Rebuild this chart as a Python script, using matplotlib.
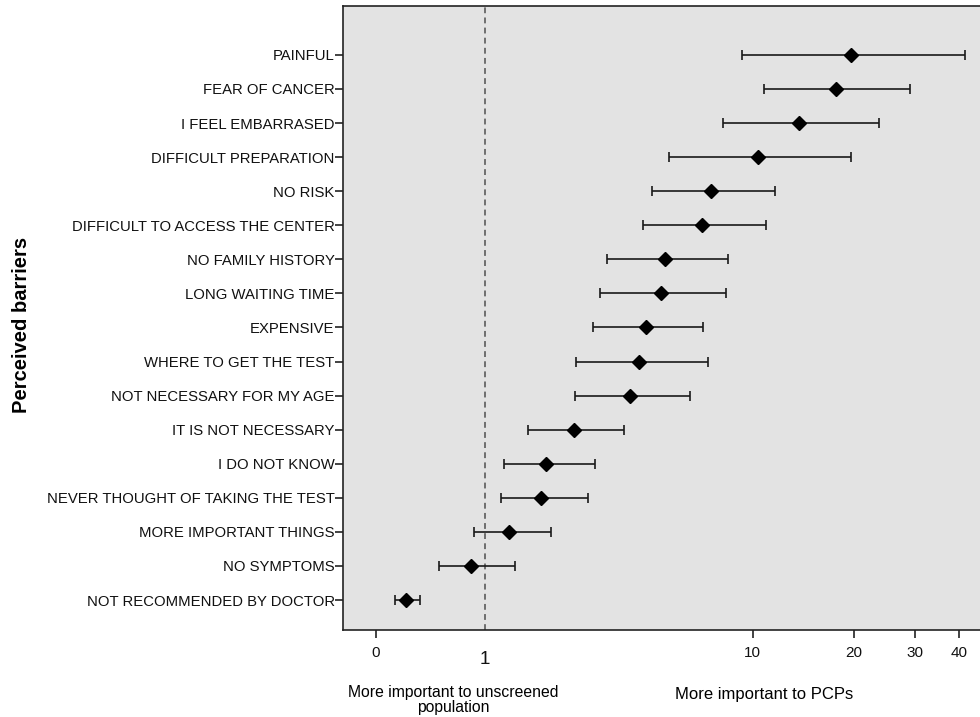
import numpy as np
import matplotlib
matplotlib.use("Agg")
import matplotlib.pyplot as plt
import matplotlib.transforms as mtransforms

plt.rcParams['font.family'] = ['Liberation Sans', 'DejaVu Sans']

# barriers, top to bottom
barriers = [
    "PAINFUL",
    "FEAR OF CANCER",
    "I FEEL EMBARRASED",
    "DIFFICULT PREPARATION",
    "NO RISK",
    "DIFFICULT TO ACCESS THE CENTER",
    "NO FAMILY HISTORY",
    "LONG WAITING TIME",
    "EXPENSIVE",
    "WHERE TO GET THE TEST",
    "NOT NECESSARY FOR MY AGE",
    "IT IS NOT NECESSARY",
    "I DO NOT KNOW",
    "NEVER THOUGHT OF TAKING THE TEST",
    "MORE IMPORTANT THINGS",
    "NO SYMPTOMS",
    "NOT RECOMMENDED BY DOCTOR",
]
odds = [19.6, 17.7, 13.8, 10.4, 7.45, 6.96, 5.28, 5.12, 4.57, 4.33, 4.05,
        2.52, 1.95, 1.85, 1.33, 0.83, 0.21]
ci_low = [9.27, 10.8, 8.09, 5.46, 4.78, 4.46, 3.34, 3.17, 2.99, 2.57, 2.54,
          1.63, 1.26, 1.21, 0.87, 0.49, 0.13]
ci_high = [41.4, 28.9, 23.6, 19.6, 11.7, 11.0, 8.43, 8.26, 7.0, 7.28, 6.40,
           3.86, 3.02, 2.85, 2.04, 1.42, 0.32]

xticks = [0, 10, 20, 30, 40]


# axis is log10(x + 1)
def fwd(x):
    return np.log10(np.maximum(np.asarray(x, dtype=float) + 1, 1e-9))


def inv(y):
    return 10 ** np.asarray(y, dtype=float) - 1


fig = plt.figure(figsize=(9.8, 7.17), dpi=100)
ax = fig.add_axes([343 / 980, 87 / 717, 640 / 980, 624.5 / 717])
ax.set_facecolor("#e3e3e3")

n = len(barriers)
ypos = np.arange(n)[::-1]
odds = np.array(odds)
err = [odds - np.array(ci_low), np.array(ci_high) - odds]

ax.errorbar(odds, ypos, xerr=err, fmt="D", color="black", ecolor="#1a1a1a",
            elinewidth=1.2, capsize=3.5, capthick=1.2, markersize=7, zorder=3)

ax.axvline(1, color="#6e6e6e", linestyle=(0, (3, 2.2)), linewidth=1.4, zorder=2)

ax.set_xscale("function", functions=(fwd, inv))
ax.set_xlim(-0.19, 46.7)
ax.set_ylim(-0.88, n - 1 + 1.45)

ax.set_xticks(xticks)
ax.set_xticklabels([str(t) for t in xticks])
ax.xaxis.set_minor_locator(matplotlib.ticker.NullLocator())
ax.set_yticks(ypos)
ax.set_yticklabels(barriers)
ax.tick_params(axis="both", direction="out", length=5.5, width=1.2,
               color="#222222", labelcolor="#111111")
ax.tick_params(axis="x", pad=6, labelsize=11)
ax.tick_params(axis="y", pad=0.5, labelsize=10.7)

for s in ax.spines.values():
    s.set_color("#222222")
    s.set_linewidth(1.2)

fig.text(22 / 980, 1 - 325 / 717, "Perceived barriers", rotation=90,
         ha="center", va="center", fontsize=14.5, fontweight="bold")

trans = mtransforms.blended_transform_factory(ax.transData, fig.transFigure)
ax.text(1, 1 - 659 / 717, "1", transform=trans, ha="center", va="center",
        fontsize=13.5, color="#111111")
fig.text(453 / 980, 1 - 700 / 717, "More important to unscreened\npopulation",
         ha="center", va="center", fontsize=11.3, linespacing=1.0)
fig.text(764 / 980, 1 - 695 / 717, "More important to PCPs",
         ha="center", va="center", fontsize=12)

fig.savefig("out.png", dpi=100, facecolor="white")
